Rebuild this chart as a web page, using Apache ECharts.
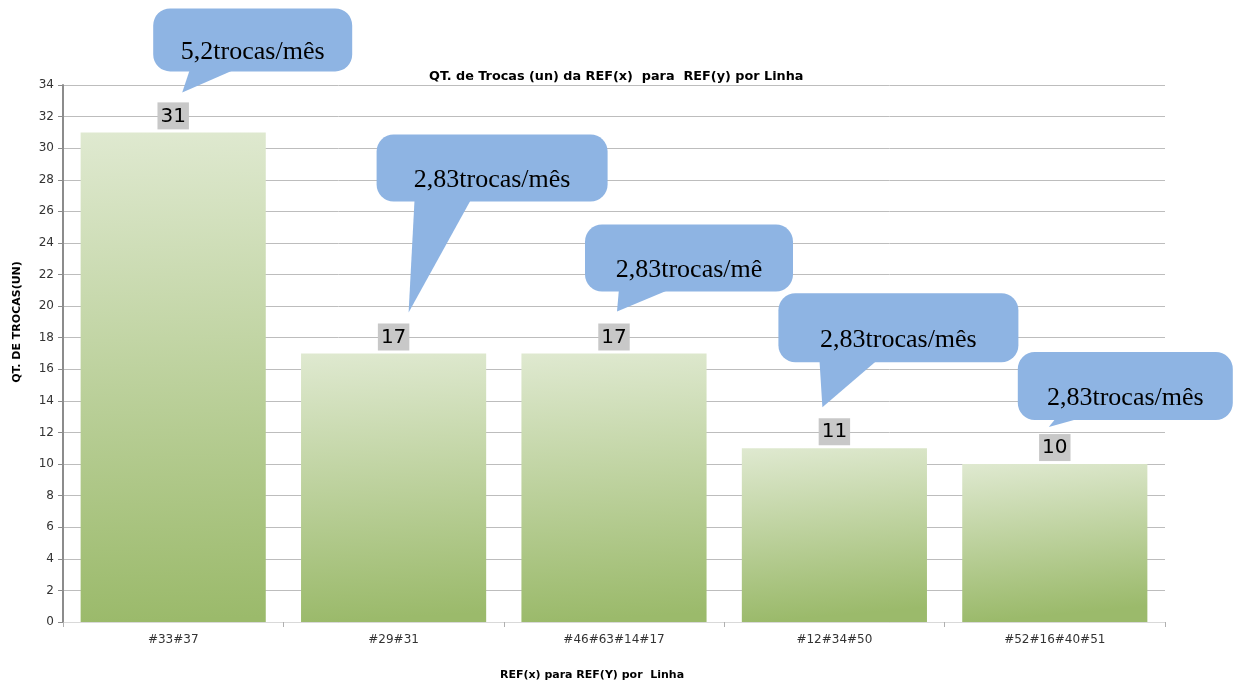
<!DOCTYPE html>
<html>
<head>
<meta charset="utf-8">
<script src="https://cdn.jsdelivr.net/npm/echarts@6/dist/echarts.min.js"></script>
<style>
  html, body { margin: 0; padding: 0; background: #ffffff; }
  #chart { width: 1237px; height: 682px; }
</style>
</head>
<body>
<div id="chart"></div>
<script>
// Categories (pairs of references per line) and number of exchanges
const categories = ['#33#37', '#29#31', '#46#63#14#17', '#12#34#50', '#52#16#40#51'];
const trocas = [31, 17, 17, 11, 10];

// Y axis scale
const yMin = 0;
const yMax = 34;
const yInterval = 2;

// Texts
const chartTitle = 'QT. de Trocas (un) da REF(x)  para  REF(y) por Linha';
const yAxisTitle = 'QT. DE TROCAS(UN)';
const xAxisTitle = 'REF(x) para REF(Y) por  Linha';
const calloutTexts = ['5,2trocas/mês', '2,83trocas/mês', '2,83trocas/mê', '2,83trocas/mês', '2,83trocas/mês'];

// Callout geometry, relative to the top-centre of each bar (pixels)
const calloutLayout = [
  { tip: [9, -40],  box: [-20, -124, 199, 63], base: [17, 64] },
  { tip: [15, -41], box: [-17, -219, 231, 67], base: [21, 78] },
  { tip: [3, -42],  box: [-29, -129, 208, 67], base: [5, 58] },
  { tip: [-12, -41], box: [-56, -155, 240, 69], base: [-15, 44] },
  { tip: [-6, -37], box: [-37, -112, 215, 68], base: [2, 30] }
];

const chart = echarts.init(document.getElementById('chart'), null, { renderer: 'canvas' });

const option = {
  animation: false,
  backgroundColor: '#ffffff',
  title: {
    text: chartTitle,
    left: 424,
    top: 65,
    textStyle: { fontFamily: 'DejaVu Sans', fontSize: 12.8, fontWeight: 'bold', color: '#000000' }
  },
  grid: { left: 63, right: 72, top: 85, bottom: 60, containLabel: false },
  xAxis: {
    type: 'category',
    data: categories,
    axisLine: { lineStyle: { color: '#d9d9d9', width: 1 } },
    axisTick: { show: true, length: 5, lineStyle: { color: '#b0b0b0' } },
    axisLabel: { fontFamily: 'DejaVu Sans', fontSize: 12, color: '#333333', margin: 12 }
  },
  yAxis: {
    type: 'value',
    min: yMin,
    max: yMax,
    interval: yInterval,
    axisLine: { show: true, lineStyle: { color: '#8c8c8c', width: 2 } },
    axisTick: { show: true, length: 5, lineStyle: { color: '#8c8c8c' } },
    axisLabel: { fontFamily: 'DejaVu Sans', fontSize: 12, color: '#333333', margin: 9 },
    splitLine: { show: true, lineStyle: { color: '#bdbdbd', width: 1 } }
  },
  series: [{
    type: 'bar',
    data: trocas,
    barCategoryGap: '16%',
    itemStyle: {
      color: new echarts.graphic.LinearGradient(0, 0, 0.08, 1, [
        { offset: 0, color: '#dfe9d0' },
        { offset: 1, color: '#9bba6b' }
      ])
    },
    label: {
      show: true,
      position: 'top',
      distance: 3,
      fontFamily: 'DejaVu Sans',
      fontSize: 20,
      lineHeight: 22,
      color: '#000000',
      backgroundColor: '#c8c8c8',
      padding: [3, 3, 2, 3]
    }
  }]
};

chart.setOption(option);

// Speech-bubble annotations anchored to the bar tops
const graphics = [];
categories.forEach(function (cat, i) {
  const anchor = chart.convertToPixel({ seriesIndex: 0 }, [i, trocas[i]]);
  const L = calloutLayout[i];
  const bx = anchor[0] + L.box[0];
  const by = anchor[1] + L.box[1];
  const bw = L.box[2];
  const bh = L.box[3];
  const bottom = by + bh;
  graphics.push({
    type: 'group',
    z: 100,
    children: [
      {
        type: 'polygon',
        shape: { points: [
          [anchor[0] + L.base[0], bottom - 3],
          [anchor[0] + L.tip[0], anchor[1] + L.tip[1]],
          [anchor[0] + L.base[1], bottom - 3]
        ] },
        style: { fill: '#8eb4e3' }
      },
      {
        type: 'rect',
        shape: { x: bx, y: by, width: bw, height: bh, r: 17 },
        style: { fill: '#8eb4e3' }
      },
      {
        type: 'text',
        style: {
          text: calloutTexts[i],
          x: bx + bw / 2,
          y: by + bh / 2 + 12,
          font: '26px "Liberation Serif"',
          fill: '#000000',
          align: 'center',
          verticalAlign: 'middle',
          textAlign: 'center',
          textVerticalAlign: 'middle'
        }
      }
    ]
  });
});

// Axis titles
graphics.push({
  type: 'text',
  x: 17,
  y: 322,
  rotation: Math.PI / 2,
  style: {
    text: yAxisTitle,
    font: 'bold 11px "DejaVu Sans"',
    fill: '#000000',
    align: 'center', verticalAlign: 'middle',
    textAlign: 'center', textVerticalAlign: 'middle'
  }
});
graphics.push({
  type: 'text',
  x: 592,
  y: 675,
  style: {
    text: xAxisTitle,
    font: 'bold 11px "DejaVu Sans"',
    fill: '#000000',
    align: 'center', verticalAlign: 'middle',
    textAlign: 'center', textVerticalAlign: 'middle'
  }
});

chart.setOption({ graphic: graphics });
</script>
</body>
</html>
